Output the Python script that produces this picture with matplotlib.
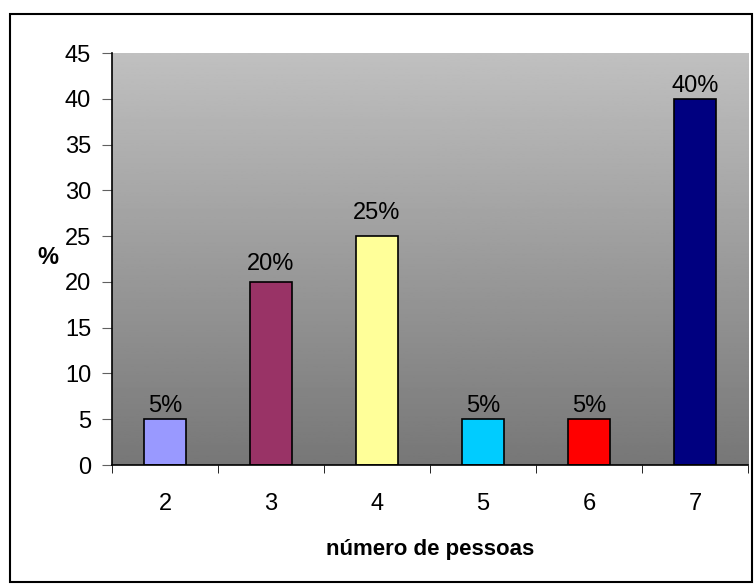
import numpy as np
import matplotlib.pyplot as plt
from matplotlib.patches import Rectangle

plt.rcParams["font.family"] = ["Liberation Sans", "DejaVu Sans"]

# household size vs. share of respondents
pessoas = ["2", "3", "4", "5", "6", "7"]
percent = [5, 20, 25, 5, 5, 40]
cores = ["#9999FF", "#993366", "#FFFF99", "#00CCFF", "#FF0000", "#000080"]
# gap (points) between each bar top and its value label
label_gap = [5, 8.5, 12, 5, 5, 5]

fig = plt.figure(figsize=(7.55, 5.87), dpi=100)
fig.patches.append(Rectangle((0.013, 0.009), 0.983, 0.967, transform=fig.transFigure,
                             fill=False, edgecolor="black", linewidth=1.5))

ax = fig.add_axes([0.1483, 0.2078, 0.8424, 0.7019])
x = np.arange(len(pessoas))

# vertical gray gradient behind the bars, light at the top
grad = np.linspace(192, 119, 256).reshape(-1, 1) / 255.0
ax.imshow(grad, cmap="gray", vmin=0, vmax=1, aspect="auto",
          extent=[-0.5, len(pessoas) - 0.5, 0, 45], zorder=0)

ax.bar(x, percent, width=0.4, color=cores, edgecolor="black", linewidth=1.2, zorder=2)
for xi, v, g in zip(x, percent, label_gap):
    ax.annotate(f"{v}%", (xi, v), xytext=(0, g), textcoords="offset points",
                ha="center", va="baseline", fontsize=17, zorder=3)

ax.set_xlim(-0.5, len(pessoas) - 0.5)
ax.set_ylim(0, 45)
ax.set_yticks(range(0, 46, 5))
ax.set_xticks(x)
ax.set_xticklabels(pessoas)
ax.set_xticks(np.arange(-0.5, len(pessoas)), minor=True)
ax.tick_params(axis="x", which="major", length=0, pad=20, labelsize=17)
ax.tick_params(axis="x", which="minor", length=6, direction="out", color="black")
ax.tick_params(axis="y", length=7, color="#606060", labelsize=17, pad=8)

for s in ["top", "right"]:
    ax.spines[s].set_visible(False)
ax.spines["left"].set_linewidth(1.2)
ax.spines["bottom"].set_linewidth(1.2)

ax.set_xlabel("número de pessoas", fontsize=16, fontweight="bold", va="center")
ax.xaxis.set_label_coords(0.5, -0.204)
ax.set_ylabel("%", fontsize=17, fontweight="bold", rotation=0, va="center", ha="center")
ax.yaxis.set_label_coords(-0.1006, 0.5025)

fig.savefig("out.png", dpi=100)
